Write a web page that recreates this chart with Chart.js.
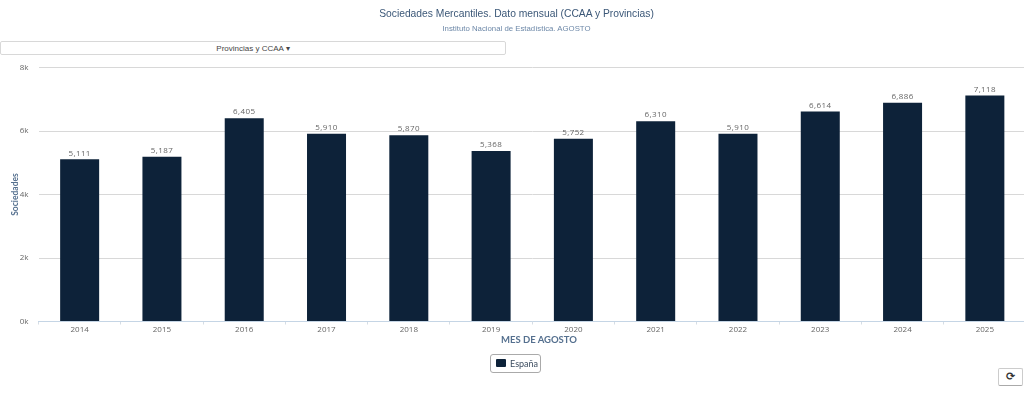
<!DOCTYPE html>
<html>
<head>
<meta charset="utf-8">
<script src="https://cdn.jsdelivr.net/npm/chart.js@4"></script>
<style>
    html, body { margin: 0; padding: 0; width: 1024px; height: 395px; overflow: hidden; background: #fff; }
    #wrap { position: relative; width: 1024px; height: 395px; overflow: hidden; }
    #sociedadesChart { position: absolute; left: 0; top: 0; }
    .title { position: absolute; left: 0; width: 1033px; text-align: center; font-family: "Liberation Sans", Arial, sans-serif; }
    #mainTitle { top: 6px; font-size: 10.3px; line-height: 15px; color: #3c5878; }
    #subTitle { top: 23px; font-size: 7.8px; line-height: 11px; color: #6d88a8; }
    #xTitle { position: absolute; left: 439px; top: 334px; width: 200px; text-align: center; font: bold 9.5px/12px Lato, sans-serif; color: #55708f; }
    #dropdown { position: absolute; left: 0; top: 41px; width: 504px; height: 12px; border: 1px solid #d8d8d8; border-radius: 2px; background: #fff; opacity: 0.99;
        font: 8px/13px "Liberation Sans", Arial, sans-serif; color: #444; text-align: center; }
    #legendBtn { position: absolute; left: 490px; top: 354px; width: 49px; height: 17px; border: 1px solid #aaa; border-radius: 3px; background: #fff;
        font: 9px/17px Lato, sans-serif; color: #3d4d60; }
    #legendBtn i { position: absolute; left: 5px; top: 4px; width: 10px; height: 8px; background: #0d2239; border-radius: 1px; }
    #legendBtn span { position: absolute; left: 19px; top: 0; }
    #refreshBtn { position: absolute; left: 998px; top: 368px; width: 23px; height: 16px; border: 1px solid #ccc; border-bottom-color: #aaa; border-radius: 2px; background: #fff;
        font: bold 11px/16px "DejaVu Sans", sans-serif; color: #333; text-align: center; }
</style>
</head>
<body>
<div id="wrap">
    <canvas id="sociedadesChart"></canvas>
    <div class="title" id="mainTitle">Sociedades Mercantiles. Dato mensual (CCAA y Provincias)</div>
    <div class="title" id="subTitle">Instituto Nacional de Estadística. AGOSTO</div>
    <div id="dropdown">Provincias y CCAA ▾</div>
    <div id="xTitle">MES DE AGOSTO</div>
    <div id="legendBtn"><i></i><span>España</span></div>
    <div id="refreshBtn">⟳</div>
</div>
<script>
const years = ['2014', '2015', '2016', '2017', '2018', '2019', '2020', '2021', '2022', '2023', '2024', '2025'];
const sociedades = [5111, 5187, 6405, 5910, 5870, 5368, 5752, 6310, 5910, 6614, 6886, 7118];
const yTicks = [0, 2000, 4000, 6000, 8000];

// labels above each bar
const barLabels = {
    id: 'barLabels',
    afterDatasetsDraw(chart) {
        const ctx = chart.ctx;
        const meta = chart.getDatasetMeta(0);
        ctx.save();
        ctx.font = '8px "Open Sans", sans-serif';
        ctx.letterSpacing = '0.4px';
        ctx.fillStyle = '#666';
        ctx.textAlign = 'center';
        ctx.textBaseline = 'bottom';
        meta.data.forEach(function(bar, i) {
            ctx.fillText(sociedades[i].toLocaleString('en-US'), bar.x, bar.y - 2);
        });
        ctx.restore();
    }
};

const canvas = document.getElementById('sociedadesChart');
canvas.style.width = '1026px';
canvas.style.height = '395px';

new Chart(canvas, {
    type: 'bar',
    data: {
        labels: years,
        datasets: [{
            label: 'España',
            data: sociedades,
            backgroundColor: '#0d2239',
            barPercentage: 0.474,
            categoryPercentage: 1
        }]
    },
    options: {
        responsive: false,
        animation: false,
        layout: { padding: { top: 67.5, left: 10, right: 0, bottom: 49.5 } },
        plugins: { legend: { display: false }, tooltip: { enabled: false } },
        scales: {
            x: {
                afterFit(scale) { scale.height = 24; },
                border: { color: '#c5d5e5' },
                grid: { drawOnChartArea: false, tickLength: 3, color: '#d5dde5' },
                ticks: { color: '#666', padding: 0, maxRotation: 0, font: { family: '"Open Sans", sans-serif', size: 8 } }
            },
            y: {
                min: 0,
                max: 8000,
                afterFit(scale) { scale.width = 28.5; },
                afterBuildTicks(scale) { scale.ticks = yTicks.map(function(v) { return { value: v }; }); },
                border: { display: false },
                grid: { color: '#d8d8d8', drawTicks: false },
                ticks: {
                    color: '#666',
                    padding: 10,
                    font: { family: '"Open Sans", sans-serif', size: 8 },
                    callback: function(v) { return (v / 1000) + 'k'; }
                },
                title: { display: true, text: 'Sociedades', color: '#55708f', padding: 0, font: { family: 'Lato, sans-serif', size: 8.5, weight: 'bold' } }
            }
        }
    },
    plugins: [barLabels]
});
</script>
</body>
</html>
